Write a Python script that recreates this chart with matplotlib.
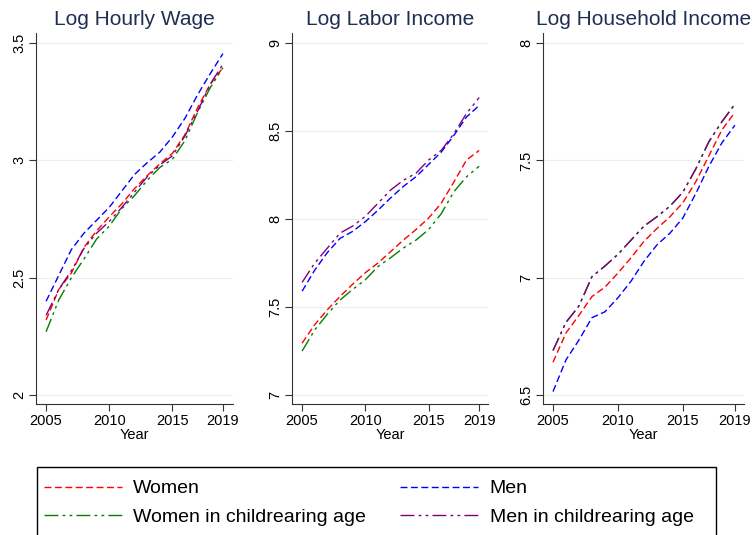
import matplotlib
matplotlib.use("Agg")
import matplotlib.pyplot as plt
from matplotlib.patches import Rectangle

plt.rcParams['font.family'] = ['Liberation Sans', 'DejaVu Sans']
plt.rcParams['lines.scale_dashes'] = False

years = list(range(2005, 2020))

# Log hourly wage
wage_women = [2.32, 2.45, 2.52, 2.63, 2.70, 2.76, 2.815, 2.88, 2.935, 2.985, 3.03, 3.11, 3.225, 3.325, 3.395]
wage_men = [2.40, 2.51, 2.62, 2.69, 2.745, 2.80, 2.87, 2.94, 2.99, 3.035, 3.10, 3.18, 3.28, 3.37, 3.455]
wage_women_cr = [2.27, 2.405, 2.50, 2.58, 2.665, 2.72, 2.795, 2.85, 2.915, 2.97, 3.005, 3.085, 3.205, 3.31, 3.395]
wage_men_cr = [2.34, 2.45, 2.53, 2.625, 2.69, 2.74, 2.80, 2.865, 2.93, 2.98, 3.02, 3.105, 3.21, 3.325, 3.41]

# Log labor income
labor_women = [7.295, 7.40, 7.485, 7.56, 7.63, 7.695, 7.75, 7.815, 7.88, 7.94, 8.005, 8.09, 8.21, 8.335, 8.39]
labor_men = [7.59, 7.71, 7.81, 7.89, 7.93, 7.985, 8.05, 8.12, 8.185, 8.24, 8.31, 8.38, 8.475, 8.58, 8.645]
labor_women_cr = [7.25, 7.37, 7.46, 7.54, 7.60, 7.655, 7.73, 7.78, 7.835, 7.88, 7.94, 8.03, 8.155, 8.24, 8.30]
labor_men_cr = [7.64, 7.75, 7.835, 7.92, 7.96, 8.015, 8.09, 8.165, 8.22, 8.26, 8.335, 8.39, 8.485, 8.60, 8.69]

# Log household income
hh_women = [6.64, 6.765, 6.84, 6.92, 6.96, 7.02, 7.085, 7.155, 7.21, 7.26, 7.32, 7.41, 7.52, 7.63, 7.705]
hh_men = [6.515, 6.65, 6.735, 6.83, 6.855, 6.915, 6.985, 7.07, 7.14, 7.19, 7.255, 7.36, 7.475, 7.575, 7.65]
hh_women_cr = [6.69, 6.81, 6.88, 7.005, 7.05, 7.10, 7.16, 7.22, 7.26, 7.305, 7.365, 7.465, 7.58, 7.665, 7.74]
hh_men_cr = [6.69, 6.81, 6.88, 7.005, 7.05, 7.10, 7.16, 7.22, 7.26, 7.305, 7.365, 7.465, 7.58, 7.665, 7.74]

titles = ["Log Hourly Wage", "Log Labor Income", "Log Household Income"]
labels = ["Women", "Men", "Women in childrearing age", "Men in childrearing age"]

panels = [
    (wage_women, wage_men, wage_women_cr, wage_men_cr),
    (labor_women, labor_men, labor_women_cr, labor_men_cr),
    (hh_women, hh_men, hh_women_cr, hh_men_cr),
]
yticks = [[2, 2.5, 3, 3.5], [7, 7.5, 8, 8.5, 9], [6.5, 7, 7.5, 8]]
yticklabels = [["2", "2.5", "3", "3.5"], ["7", "7.5", "8", "8.5", "9"], ["6.5", "7", "7.5", "8"]]
ylims = [(1.962, 3.543), (6.949, 9.057), (6.462, 8.043)]
xlims = [(2004.2, 2019.8), (2004.2, 2019.7), (2004.23, 2019.7)]

# axes boxes in pixels: left, right, top, bottom
boxes = [(36, 233, 33, 404), (292, 488, 33, 404), (543, 744, 33, 404)]

colors = ['#ff0000', '#0000ff', '#008000', '#800080']
dash = (0, (5, 2.5))
dashdot = (0, (10, 3, 2, 3, 2, 3))
styles = [dash, dash, dashdot, dashdot]

W, H = 754, 535
fig = plt.figure(figsize=(W / 100, H / 100), dpi=100)

handles = []
for i in range(3):
    l, r, t, b = boxes[i]
    ax = fig.add_axes([l / W, (H - b) / H, (r - l) / W, (b - t) / H])
    lines = []
    for series, c, ls in zip(panels[i], colors, styles):
        ln, = ax.plot(years, series, color=c, linestyle=ls, lw=1.0)
        lines.append(ln)
    if i == 0:
        handles = lines
    ax.set_xlim(*xlims[i])
    ax.set_ylim(*ylims[i])
    ax.set_xticks([2005, 2010, 2015, 2019])
    ax.set_yticks(yticks[i])
    ax.set_yticklabels(yticklabels[i], rotation=90, va='center')
    ax.tick_params(axis='both', labelsize=10.5, length=5, width=0.8, color='#333333', pad=2)
    for y in yticks[i]:
        ax.axhline(y, color='#e8f0f1', lw=0.9, zorder=0)
    for s in ['top', 'right']:
        ax.spines[s].set_visible(False)
    for s in ['left', 'bottom']:
        ax.spines[s].set_color('#333333')
        ax.spines[s].set_linewidth(0.8)
    ax.set_xlabel("Year", fontsize=10.5, labelpad=0)
    ax.set_title(titles[i], fontsize=15, color='#1f2f52', pad=6)

# legend box
fig.patches.append(Rectangle((37 / W, -0.05), (716 - 37) / W, (535 - 467) / H + 0.05,
                             transform=fig.transFigure, fill=False, edgecolor='black', lw=1.0))
# legend fills column-wise, so order entries to read row-wise
order = [0, 2, 1, 3]
fig.legend([handles[k] for k in order], [labels[k] for k in order], loc='upper left',
           bbox_to_anchor=(39 / W, (H - 475) / H),
           ncol=2, frameon=False, fontsize=14, handlelength=4.0, handletextpad=0.6,
           columnspacing=1.75, labelspacing=0.55, borderaxespad=0, borderpad=0.25)

fig.savefig("out.png", dpi=100)
